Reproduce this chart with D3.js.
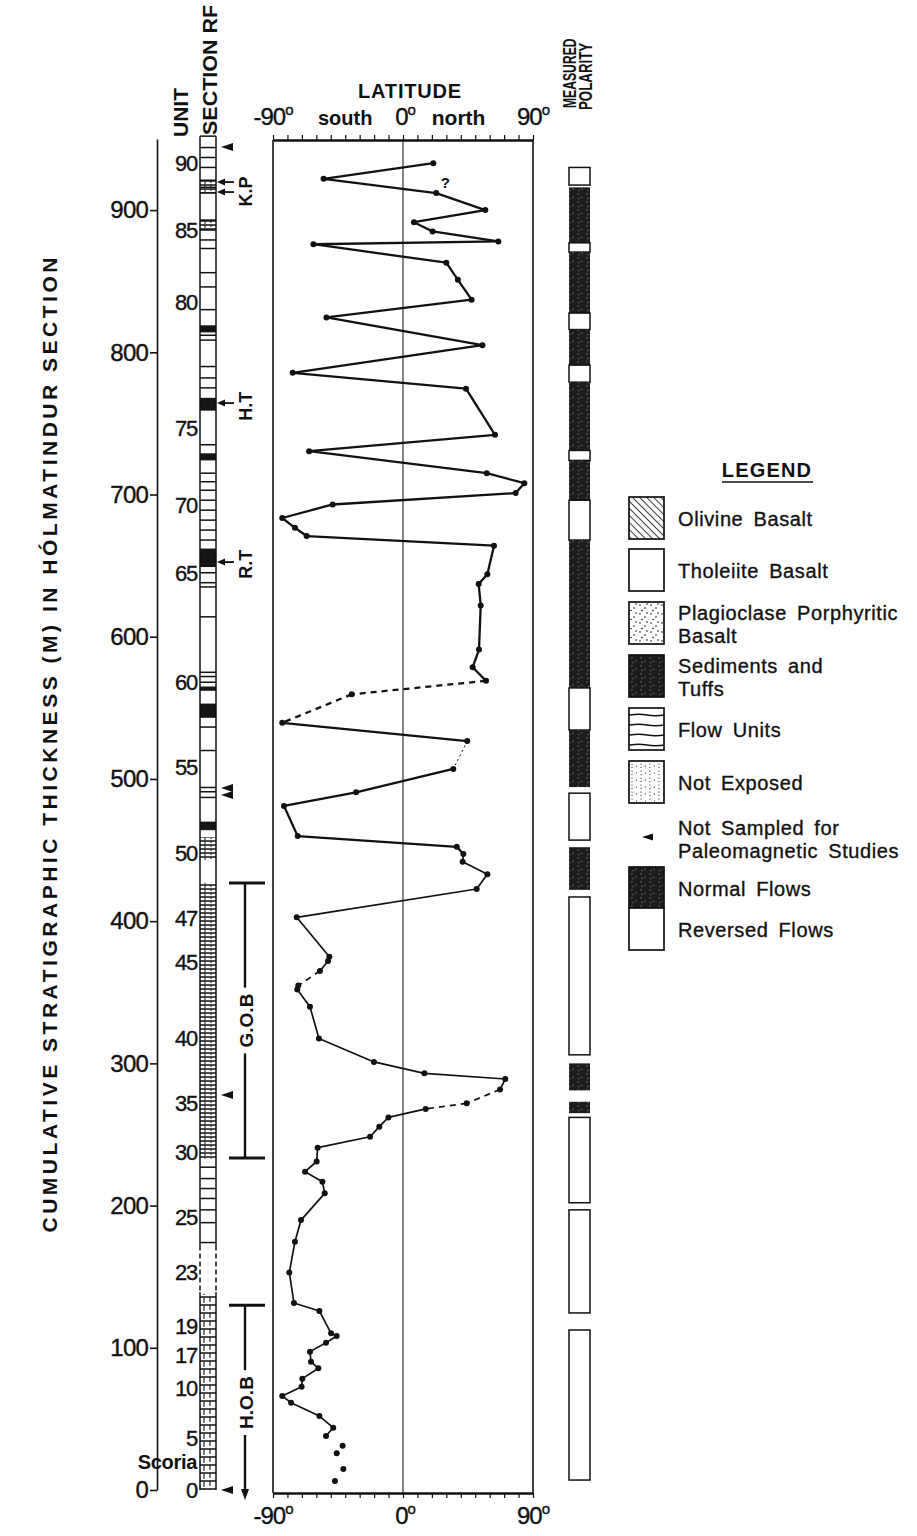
<!DOCTYPE html>
<html>
<head>
<meta charset="utf-8">
<script src="https://cdn.jsdelivr.net/npm/d3@7"></script>
<style>
  body { margin: 0; background: #fff; }
  svg text { font-family: 'Liberation Sans', Arial, Helvetica, sans-serif; fill: #111; }
  svg text.med { stroke: #111; stroke-width: 0.35px; }
</style>
</head>
<body>
<svg id="chart" width="917" height="1536"></svg>
<script>
// ---- Paleomagnetic latitude of the sampled flows, Hólmatindur section ----
// cumulative thickness (m) of each sample, top of section first
const sampleDepth = [
  933, 922, 912, 900, 891.5, 885, 878, 876, 863, 851, 837, 824.5, 805, 785.6, 774.4,
  742, 730.5, 715, 708, 701, 693, 683.5, 676.6, 670.8, 664, 644, 637, 622, 591, 578.5,
  569, 559.5, 539.5, 526.6, 507, 490.6, 481, 459.8, 452.3, 447.2, 441.8, 433, 422.6,
  402.7, 375, 372, 365, 354.7, 352, 339.8, 317.5, 301, 293, 289, 281.7, 271.9, 268,
  262, 255.5, 248.4, 240.7, 231, 223.8, 216.8, 208.6, 189.8, 174.6, 153, 131.5, 125.9,
  110.2, 108.3, 103.6, 97.3, 90.2, 85.6, 78.3, 72.6, 66.1, 61.4, 52, 43.8, 38,
  31.2, 25.8, 14.8, 6.3
];
// virtual geomagnetic pole latitude (degrees) for each sample
const sampleLatitude = [
  21, -55, 23, 57, 7.6, 20.5, 66, -62, 30, 38, 47.5, -53, 55, -76.4, 43.6,
  63.7, -65, 58, 84, 78, -48.7, -83.6, -74.8, -66.7, 63, 58.4, 52.4, 53.8, 52.6, 48.2,
  57.5, -35.5, -83.6, 44.5, 34.8, -32.5, -82.4, -72.9, 37.2, 41.8, 41.3, 58.4, 51,
  -73.6, -51, -51.9, -57.5, -72.5, -73.2, -64.4, -58.2, -20.1, 14.8, 70.8, 67.2, 44.1, 15.7,
  -10.1, -16.4, -22.8, -59.1, -59.8, -67.8, -55.8, -54.2, -70.6, -74.8, -78.7, -75.5, -57.9,
  -49.8, -45.9, -53.3, -64.4, -63.7, -58.6, -69.7, -70.2, -83.6, -77.5, -57.9, -48.3, -53.3,
  -41.8, -45.9, -41.3, -47.1
];
// how each sample is joined to the one above it
const sampleLink = [
  'none', 'solid', 'solid', 'solid', 'solid', 'solid', 'solid', 'solid', 'solid', 'solid', 'solid', 'solid', 'solid', 'solid', 'solid',
  'solid', 'solid', 'solid', 'solid', 'solid', 'solid', 'solid', 'solid', 'solid', 'solid', 'solid', 'solid', 'solid', 'solid', 'solid',
  'solid', 'dash', 'dash', 'solid', 'dot', 'solid', 'solid', 'solid', 'solid', 'solid', 'solid', 'solid', 'solid',
  'solid', 'solid', 'solid', 'solid', 'dash', 'solid', 'solid', 'solid', 'solid', 'solid', 'solid', 'solid', 'dash', 'dash',
  'solid', 'solid', 'solid', 'solid', 'solid', 'solid', 'solid', 'solid', 'solid', 'solid', 'solid', 'solid', 'solid',
  'solid', 'solid', 'solid', 'solid', 'solid', 'solid', 'solid', 'solid', 'solid', 'solid', 'solid', 'solid', 'solid',
  'none', 'none', 'none', 'none'
];

// thickness axis ticks (m) and latitude ticks (deg)
const thicknessTicks = [0, 100, 200, 300, 400, 500, 600, 700, 800, 900];
const latitudeTicks = d3.range(-90, 91, 10);

// flow unit numbers and the thickness they sit at
const unitLabels = ['90', '85', '80', '75', '70', '65', '60', '55', '50', '47', '45', '40', '35', '30', '25', '23', '19', '17', '10', '5', 'Scoria', '0'];
const unitDepth  = [933, 886, 835, 747, 692.6, 644.8, 568, 508, 448, 402, 371, 318, 272, 237.7, 192, 153, 115, 95, 71.7, 36.6, 19.7, 0];

// lithological column (section RF)
const sectionTop = 952;
const flowBoundaries = [944, 937, 930, 921, 916, 912, 893, 886, 879, 873, 856, 846, 830, 812, 808.6, 790, 782, 775,
  735, 715, 709, 703, 696, 689, 682, 675, 668, 645, 638, 635, 614, 575, 572, 568, 536.5, 520, 494, 491, 487,
  227, 219, 212, 205, 197, 188, 174];
const sedimentBands = [[819, 814], [768, 759], [729, 724], [662, 649], [565, 562], [553, 543], [470, 464]];
const flowUnitBands = [[921, 912], [893, 886], [459, 443], [427, 233], [138, 0]];
const notExposedBands = [[172, 139]];
const notSampledAt = [944.3, 493.6, 488.7, 277.7, 0];
const tephraNames = ['K.P', 'H.T', 'R.T'];
const tephraArrows = [[919.7, 912.7], [764.3], [652.5]];
const tephraLabelAt = [913, 762, 651];
const basaltGroups = [{ name: 'G.O.B', top: 426.8, bottom: 233.4, arrow: false },
                      { name: 'H.O.B', top: 130, bottom: -7, arrow: true }];

// measured polarity intervals [top, bottom, N/R]
const polarity = [
  [930, 917.6, 'R'], [916, 877, 'N'], [877, 870.5, 'R'], [870.5, 827.6, 'N'], [827.6, 816, 'R'],
  [816, 791, 'N'], [791, 779, 'R'], [779, 731, 'N'], [731, 724, 'R'], [724, 696, 'N'],
  [696, 668, 'R'], [668, 564, 'N'], [564, 534.4, 'R'], [534.4, 494.3, 'N'], [490, 457, 'R'],
  [452, 422, 'N'], [417, 306, 'R'], [300, 281, 'N'], [273, 265, 'N'], [262, 202, 'R'],
  [197, 124.5, 'R'], [112.5, 7, 'R']
];

// legend entries
const legendNames = [['Olivine Basalt'], ['Tholeiite Basalt'], ['Plagioclase Porphyritic', 'Basalt'],
  ['Sediments and', 'Tuffs'], ['Flow Units'], ['Not Exposed'], ['Not Sampled for', 'Paleomagnetic Studies'],
  ['Normal Flows'], ['Reversed Flows']];
const legendFills = ['olivine', 'tholeiite', 'plagio', 'sediment', 'flowunits', 'notexposed', 'triangle', 'normal', 'reversed'];

// ---------------------------------------------------------------------------
const svg = d3.select('#chart');
const ink = '#111';

const y = d3.scaleLinear().domain([0, 950]).range([1490, 139]);
const x = d3.scaleLinear().domain([-90, 90]).range([273, 533]);

const plotTop = 140, plotBottom = 1493;
const colL = 200, colR = 216;        // lithology column
const polL = 569, polR = 590;        // polarity column

// ---- patterns ----
const defs = svg.append('defs');
const hatch = defs.append('pattern').attr('id', 'olivine').attr('patternUnits', 'userSpaceOnUse')
  .attr('width', 5).attr('height', 5).attr('patternTransform', 'rotate(-45)');
hatch.append('rect').attr('width', 5).attr('height', 5).attr('fill', '#fff');
hatch.append('line').attr('x1', 0).attr('y1', 0).attr('x2', 0).attr('y2', 5).attr('stroke', ink).attr('stroke-width', 1.6);

const plag = defs.append('pattern').attr('id', 'plagio').attr('patternUnits', 'userSpaceOnUse')
  .attr('width', 11).attr('height', 9);
plag.append('rect').attr('width', 11).attr('height', 9).attr('fill', '#fff');
[[2, 2], [7, 5], [4, 7.5], [9, 1]].forEach(p => plag.append('circle').attr('cx', p[0]).attr('cy', p[1]).attr('r', 0.8).attr('fill', ink));

const sed = defs.append('pattern').attr('id', 'sediment').attr('patternUnits', 'userSpaceOnUse')
  .attr('width', 9).attr('height', 8);
sed.append('rect').attr('width', 9).attr('height', 8).attr('fill', '#1c1c1c');
[[2, 2], [6, 5], [3, 6.5]].forEach(p => sed.append('circle').attr('cx', p[0]).attr('cy', p[1]).attr('r', 0.7).attr('fill', '#777'));

const flowP = defs.append('pattern').attr('id', 'flowunits').attr('patternUnits', 'userSpaceOnUse')
  .attr('width', 35).attr('height', 10);
flowP.append('rect').attr('width', 35).attr('height', 10).attr('fill', '#fff');
flowP.append('path').attr('d', 'M0,5 Q9,3.5 17,5 T35,5').attr('fill', 'none').attr('stroke', ink).attr('stroke-width', 1.3);

const notExp = defs.append('pattern').attr('id', 'notexposed').attr('patternUnits', 'userSpaceOnUse')
  .attr('width', 9).attr('height', 7);
notExp.append('rect').attr('width', 9).attr('height', 7).attr('fill', '#fff');
[[2, 1], [2, 4.5], [6.5, 3]].forEach(p => notExp.append('circle').attr('cx', p[0]).attr('cy', p[1]).attr('r', 0.6).attr('fill', ink));

// dense flow units inside the lithology column
const colFlow = defs.append('pattern').attr('id', 'colflow').attr('patternUnits', 'userSpaceOnUse')
  .attr('width', 16).attr('height', 4).attr('x', colL);
colFlow.append('rect').attr('width', 16).attr('height', 4).attr('fill', '#fff');
colFlow.append('line').attr('x1', 0).attr('x2', 16).attr('y1', 1).attr('y2', 1).attr('stroke', ink).attr('stroke-width', 1.5);
colFlow.append('line').attr('x1', 5).attr('x2', 5).attr('y1', 1).attr('y2', 4).attr('stroke', ink).attr('stroke-width', 1);
colFlow.append('line').attr('x1', 11).attr('x2', 11).attr('y1', 1).attr('y2', 3).attr('stroke', ink).attr('stroke-width', 1);

const colFlowLow = defs.append('pattern').attr('id', 'colflowlow').attr('patternUnits', 'userSpaceOnUse')
  .attr('width', 16).attr('height', 8).attr('x', colL);
colFlowLow.append('rect').attr('width', 16).attr('height', 8).attr('fill', '#fff');
colFlowLow.append('line').attr('x1', 0).attr('x2', 16).attr('y1', 1).attr('y2', 1).attr('stroke', ink).attr('stroke-width', 1.5);
colFlowLow.append('line').attr('x1', 4).attr('x2', 4).attr('y1', 1).attr('y2', 7).attr('stroke', ink).attr('stroke-width', 1.1);
colFlowLow.append('line').attr('x1', 10).attr('x2', 10).attr('y1', 1).attr('y2', 6).attr('stroke', ink).attr('stroke-width', 1.1);

// ---- vertical title ----
svg.append('text')
  .attr('transform', 'translate(57,745) rotate(-90)')
  .attr('text-anchor', 'middle')
  .attr('font-size', 21).attr('font-weight', 'bold')
  .attr('textLength', 975).attr('lengthAdjust', 'spacing')
  .text('CUMULATIVE  STRATIGRAPHIC  THICKNESS  (M)  IN  HÓLMATINDUR  SECTION');

// ---- thickness axis ----
const yAxis = d3.axisLeft(y).tickValues(thicknessTicks).tickSize(7).tickSizeOuter(0).tickPadding(2)
  .tickFormat(d3.format('d'));
const ga = svg.append('g').attr('transform', `translate(157,0)`).call(yAxis);
ga.select('.domain').attr('stroke', ink).attr('stroke-width', 1.6);
ga.selectAll('.tick line').attr('stroke', ink).attr('stroke-width', 1.6);
ga.selectAll('.tick text').attr('font-size', 24).attr('letter-spacing', -0.8).attr('class', 'med')
  .attr('font-family', "'Liberation Sans', Arial, sans-serif").attr('fill', ink);

// ---- column headers ----
function vtext(tx, ty, str, size, len) {
  const t = svg.append('text').attr('transform', `translate(${tx},${ty}) rotate(-90)`)
    .attr('font-size', size).attr('font-weight', 'bold').text(str);
  if (len) t.attr('textLength', len).attr('lengthAdjust', 'spacingAndGlyphs');
  return t;
}
vtext(188, 137, 'UNIT', 21, 49);
vtext(217, 135, 'SECTION RF', 21, 130);
// condensed polarity header
function condensed(tx, ty, str, size, sx) {
  return svg.append('text').attr('transform', `translate(${tx},${ty}) rotate(-90) scale(${sx},1)`)
    .attr('font-size', size).attr('font-weight', 'bold').text(str);
}
condensed(576, 108, 'MEASURED', 19, 0.64);
condensed(592, 110, 'POLARITY', 19, 0.7);

// ---- unit numbers ----
svg.append('g').selectAll('text').data(unitLabels).join('text')
  .attr('class', d => d === 'Scoria' ? null : 'med')
  .attr('x', 197)
  .attr('y', (d, i) => y(unitDepth[i]))
  .attr('dy', '0.36em')
  .attr('text-anchor', 'end')
  .attr('font-size', d => d === 'Scoria' ? 20 : 22)
  .attr('letter-spacing', d => d === 'Scoria' ? -0.3 : -1.2)
  .attr('font-weight', d => d === 'Scoria' ? 'bold' : 'normal')
  .text(d => d);

// ---- lithology column ----
const col = svg.append('g');
col.selectAll('rect.flow').data(flowUnitBands).join('rect').attr('class', 'flow')
  .attr('x', colL).attr('width', colR - colL)
  .attr('y', d => y(d[0])).attr('height', d => y(d[1]) - y(d[0]))
  .attr('fill', d => d[0] < 150 ? 'url(#colflowlow)' : 'url(#colflow)');
col.selectAll('rect.sed').data(sedimentBands).join('rect').attr('class', 'sed')
  .attr('x', colL).attr('width', colR - colL)
  .attr('y', d => y(d[0])).attr('height', d => y(d[1]) - y(d[0]))
  .attr('fill', '#151515');
col.selectAll('line.bd').data(flowBoundaries).join('line').attr('class', 'bd')
  .attr('x1', colL).attr('x2', colR).attr('y1', d => y(d)).attr('y2', d => y(d))
  .attr('stroke', ink).attr('stroke-width', 1.5);
// column sides: solid where exposed, dashed where not exposed
const sideSegments = [[sectionTop, notExposedBands[0][0], false], [notExposedBands[0][0], notExposedBands[0][1], true], [notExposedBands[0][1], 0, false]];
[colL, colR].forEach(cx => {
  col.selectAll(null).data(sideSegments).join('line')
    .attr('x1', cx).attr('x2', cx).attr('y1', d => y(d[0])).attr('y2', d => y(d[1]))
    .attr('stroke', ink).attr('stroke-width', 1.5)
    .attr('stroke-dasharray', d => d[2] ? '5,3' : null);
});
col.append('line').attr('x1', colL).attr('x2', colR).attr('y1', y(sectionTop)).attr('y2', y(sectionTop))
  .attr('stroke', ink).attr('stroke-width', 1.5);

// not-sampled markers
function triangle(g, tipX, cy, w, h) {
  g.append('path').attr('d', `M${tipX},${cy} L${tipX + w},${cy - h / 2} L${tipX + w},${cy + h / 2} Z`).attr('fill', ink);
}
notSampledAt.forEach(d => triangle(svg, 221, y(d), 12, 8));

// tephra marker arrows and names
const arrowG = svg.append('g');
tephraArrows.forEach((arr, i) => {
  arr.forEach(d => {
    const yy = y(d);
    arrowG.append('line').attr('x1', 223).attr('x2', 234).attr('y1', yy).attr('y2', yy).attr('stroke', ink).attr('stroke-width', 1.8);
    triangle(arrowG, 217, yy, 8, 7);
  });
  vtext(252, y(tephraLabelAt[i]), tephraNames[i], 18).attr('text-anchor', 'middle');
});

// basalt group brackets
basaltGroups.forEach(gp => {
  const g = svg.append('g');
  const y0 = y(gp.top), y1 = y(gp.bottom);
  const mid = (y0 + y1) / 2;
  const label = vtext(253, mid, gp.name, 19).attr('text-anchor', 'middle');
  const half = label.node().getComputedTextLength() / 2 + 6;
  g.append('line').attr('x1', 229).attr('x2', 265).attr('y1', y0).attr('y2', y0).attr('stroke', ink).attr('stroke-width', 3);
  g.append('line').attr('x1', 245).attr('x2', 245).attr('y1', y0).attr('y2', mid - half).attr('stroke', ink).attr('stroke-width', 2.4);
  if (gp.arrow) {
    g.append('line').attr('x1', 245).attr('x2', 245).attr('y1', mid + half).attr('y2', y1 - 8).attr('stroke', ink).attr('stroke-width', 2.4);
    g.append('path').attr('d', `M245,${y1} L241,${y1 - 11} L249,${y1 - 11} Z`).attr('fill', ink);
  } else {
    g.append('line').attr('x1', 245).attr('x2', 245).attr('y1', mid + half).attr('y2', y1).attr('stroke', ink).attr('stroke-width', 2.4);
    g.append('line').attr('x1', 229).attr('x2', 265).attr('y1', y1).attr('y2', y1).attr('stroke', ink).attr('stroke-width', 3);
  }
});

// ---- latitude panel ----
const panel = svg.append('g');
panel.append('line').attr('x1', x(-90)).attr('x2', x(-90)).attr('y1', plotTop).attr('y2', plotBottom).attr('stroke', ink).attr('stroke-width', 1.6);
panel.append('line').attr('x1', x(90)).attr('x2', x(90)).attr('y1', plotTop).attr('y2', plotBottom).attr('stroke', ink).attr('stroke-width', 1.6);
panel.append('line').attr('x1', x(0)).attr('x2', x(0)).attr('y1', plotTop).attr('y2', plotBottom).attr('stroke', '#222').attr('stroke-width', 1.1);

const topAxis = d3.axisTop(x).tickValues(latitudeTicks).tickSize(5).tickSizeOuter(0).tickFormat('');
const gt = svg.append('g').attr('transform', `translate(0,${plotTop})`).call(topAxis);
const botAxis = d3.axisBottom(x).tickValues(latitudeTicks).tickSize(5).tickSizeOuter(0).tickFormat('');
const gb = svg.append('g').attr('transform', `translate(0,${plotBottom})`).call(botAxis);
[gt, gb].forEach(g => {
  g.select('.domain').attr('stroke', ink).attr('stroke-width', 2.6);
  g.selectAll('.tick line').attr('stroke', ink).attr('stroke-width', 1.2);
});

function degLabel(cx, by, val) {
  const t = svg.append('text').attr('x', cx).attr('y', by).attr('text-anchor', 'middle')
    .attr('font-size', 24).attr('letter-spacing', -1).attr('class', 'med');
  t.append('tspan').text(val);
  t.append('tspan').attr('font-size', 15).attr('dy', -10).text('o');
  return t;
}
svg.append('text').attr('x', 410).attr('y', 98).attr('text-anchor', 'middle')
  .attr('font-size', 20).attr('font-weight', 'bold').attr('letter-spacing', 0.8).text('LATITUDE');
degLabel(x(-90), 125, '-90');
degLabel(x(0) + 2, 125, '0');
degLabel(x(90), 125, '90');
svg.append('text').attr('x', x(-40)).attr('y', 125).attr('text-anchor', 'middle').attr('font-size', 20).attr('font-weight', 'bold').text('south');
svg.append('text').attr('x', x(38.5)).attr('y', 125).attr('text-anchor', 'middle').attr('font-size', 21).attr('font-weight', 'bold').text('north');
degLabel(x(-90), 1524, '-90');
degLabel(x(0) + 2, 1524, '0');
degLabel(x(90), 1524, '90');

// latitude trace
const segs = [];
for (let i = 1; i < sampleDepth.length; i++) {
  if (sampleLink[i] !== 'none') segs.push({ a: i - 1, b: i, s: sampleLink[i] });
}
panel.selectAll('line.seg').data(segs).join('line').attr('class', 'seg')
  .attr('x1', d => x(sampleLatitude[d.a])).attr('y1', d => y(sampleDepth[d.a]))
  .attr('x2', d => x(sampleLatitude[d.b])).attr('y2', d => y(sampleDepth[d.b]))
  .attr('stroke', ink)
  .attr('stroke-width', d => d.s === 'dot' ? 1 : (sampleDepth[d.a] > 450 ? 2.3 : 1.7))
  .attr('stroke-dasharray', d => d.s === 'dash' ? '6,5' : d.s === 'dot' ? '2,3' : null);
panel.selectAll('circle.pt').data(sampleDepth).join('circle').attr('class', 'pt')
  .attr('cx', (d, i) => x(sampleLatitude[i])).attr('cy', d => y(d))
  .attr('r', 3).attr('fill', ink);
// uncertain direction at 912 m
svg.append('text').attr('x', x(sampleLatitude[2]) + 9).attr('y', y(sampleDepth[2]) - 5)
  .attr('text-anchor', 'middle').attr('font-size', 15).attr('font-weight', 'bold').text('?');

// ---- measured polarity column ----
svg.append('g').selectAll('rect').data(polarity).join('rect')
  .attr('x', polL).attr('width', polR - polL)
  .attr('y', d => y(d[0])).attr('height', d => y(d[1]) - y(d[0]))
  .attr('fill', d => d[2] === 'N' ? 'url(#sediment)' : '#fff')
  .attr('stroke', d => d[2] === 'N' ? 'none' : ink)
  .attr('stroke-width', 1.5);

// ---- legend ----
const lg = svg.append('g');
lg.append('text').attr('x', 767).attr('y', 477).attr('text-anchor', 'middle')
  .attr('font-size', 20).attr('font-weight', 'bold').attr('letter-spacing', 1.2).text('LEGEND');
lg.append('line').attr('x1', 722).attr('x2', 813).attr('y1', 482).attr('y2', 482).attr('stroke', ink).attr('stroke-width', 1.6);
const boxTops = [497, 549, 602, 655, 708, 761, 820, 867, 908];
const boxH = 42;
legendNames.forEach((lines, i) => {
  const fillKey = legendFills[i];
  const top = boxTops[i];
  let textMid;
  if (fillKey === 'triangle') {
    triangle(lg, 642, 837, 11, 7);
    textMid = 839;
  } else {
    const h = fillKey === 'normal' ? 41 : boxH;
    const fill = fillKey === 'tholeiite' || fillKey === 'reversed' ? '#fff'
      : fillKey === 'normal' ? 'url(#sediment)' : `url(#${fillKey})`;
    lg.append('rect').attr('x', 629).attr('y', top).attr('width', 35).attr('height', h)
      .attr('fill', fill).attr('stroke', ink).attr('stroke-width', 1.7);
    textMid = top + h / 2 + 1;
  }
  const t = lg.append('text').attr('x', 678).attr('font-size', 20).attr('class', 'med')
    .attr('letter-spacing', 0.6).attr('word-spacing', 4);
  const first = textMid - (lines.length - 1) * 11.5;
  lines.forEach((s, k) => t.append('tspan').attr('x', 678).attr('y', first + k * 23).attr('dy', '0.35em').text(s));
});
</script>
</body>
</html>
